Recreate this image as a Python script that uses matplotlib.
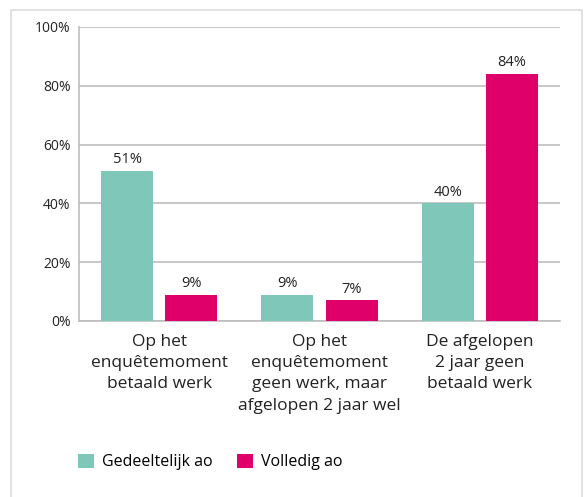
import matplotlib.pyplot as plt
import matplotlib.patches as patches
import numpy as np

plt.rcParams['font.family'] = ['Open Sans', 'DejaVu Sans']

categories = ['Op het\nenquêtemoment\nbetaald werk',
              'Op het\nenquêtemoment\ngeen werk, maar\nafgelopen 2 jaar wel',
              'De afgelopen\n2 jaar geen\nbetaald werk']
gedeeltelijk = [51, 9, 40]
volledig = [9, 7, 84]
series_names = ['Gedeeltelijk ao', 'Volledig ao']
yticks = [0, 20, 40, 60, 80, 100]

teal = '#7fc7b9'
pink = '#e0006a'
grid_col = '#bdbdbd'

W, H = 587, 497
fig = plt.figure(figsize=(W / 100, H / 100), dpi=100)

# light frame around the whole chart
fig.patches.append(patches.Rectangle((11 / W, -0.1), (582 - 11) / W, 1.1 - 10 / H,
                                     transform=fig.transFigure, fill=False,
                                     edgecolor='#dcdcdc', linewidth=1.2))

ax = fig.add_axes([79 / W, 1 - 321 / H, (560 - 79) / W, (321 - 27) / H])

x = np.arange(len(categories))
bw = 0.324
b1 = ax.bar(x - 0.2, gedeeltelijk, bw, color=teal, label=series_names[0], zorder=3)
b2 = ax.bar(x + 0.2, volledig, bw, color=pink, label=series_names[1], zorder=3)

for bars, vals in ((b1, gedeeltelijk), (b2, volledig)):
    for r, v in zip(bars, vals):
        ax.text(r.get_x() + r.get_width() / 2, v + 1.3, f'{v}%', ha='center',
                va='bottom', fontsize=10.5, color='#222222')

ax.set_xlim(-0.5, 2.5)
ax.set_ylim(0, 100)
ax.set_yticks(yticks)
ax.set_yticklabels([f'{t}%' for t in yticks], fontsize=10, color='#222222')
ax.set_xticks(x)
ax.set_xticklabels(categories, fontsize=12.5, color='#222222', linespacing=1.45)
ax.tick_params(axis='both', length=0)
ax.tick_params(axis='x', pad=9)
ax.tick_params(axis='y', pad=6)
ax.grid(axis='y', color=grid_col, linewidth=1.2, zorder=0)
for s in ('top', 'right'):
    ax.spines[s].set_visible(False)
for s in ('left', 'bottom'):
    ax.spines[s].set_color(grid_col)
    ax.spines[s].set_linewidth(1.2)

fig.legend(handles=[b1, b2], labels=series_names, loc='center left',
           bbox_to_anchor=(64 / W, 1 - 462 / H), ncol=2, frameon=False,
           fontsize=11.5, handlelength=1.0, handleheight=1.0,
           handletextpad=0.5, columnspacing=1.5)

fig.savefig('out.png', dpi=100)
